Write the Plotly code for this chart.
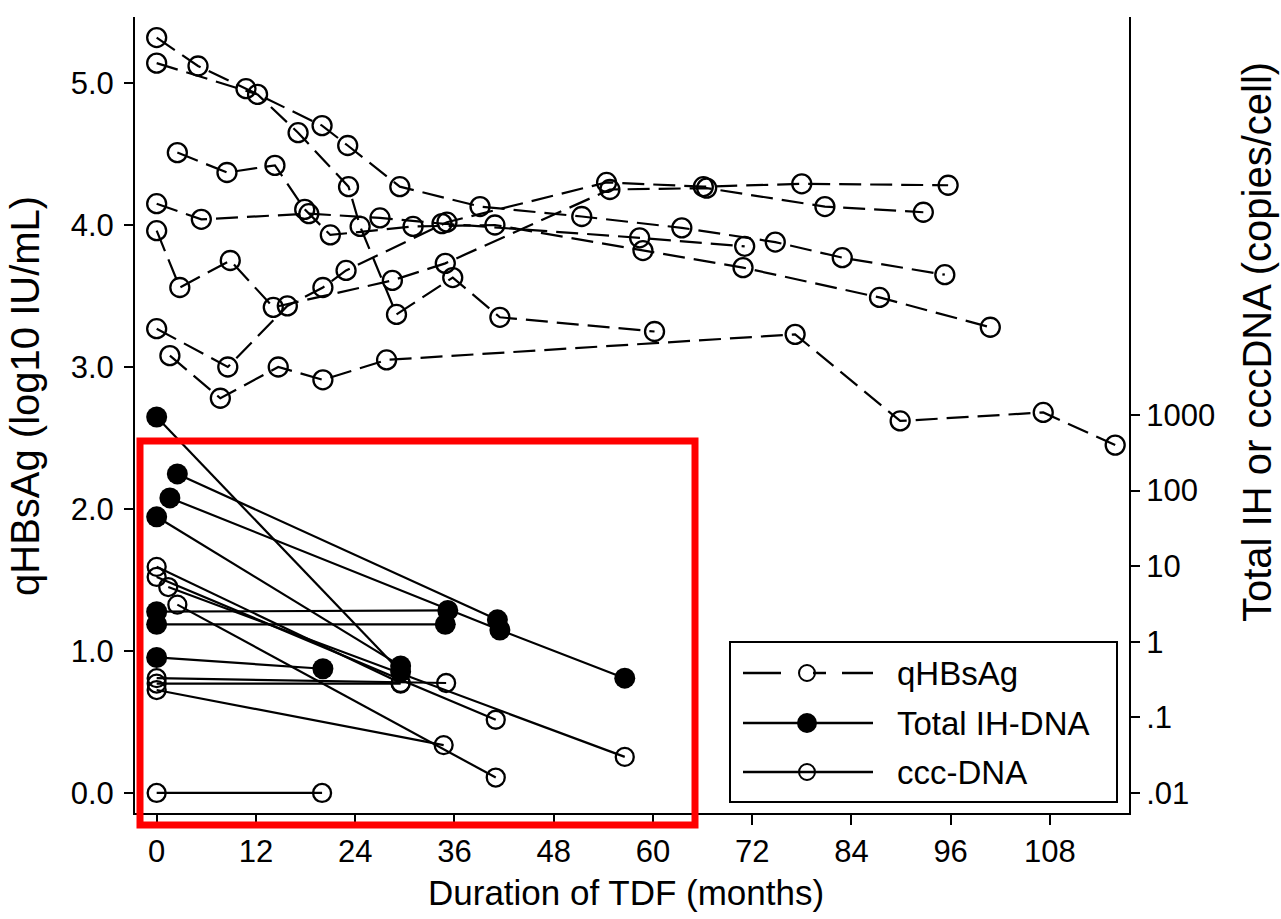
import plotly.graph_objects as go

# ---------------- data ----------------
# qHBsAg, log10 IU/mL, one list per patient
hbsag_months = [
    [0, 5.0, 10.8, 20.0, 23.1, 29.4, 39.1, 51.4, 63.5, 74.8, 82.9, 95.3],
    [0, 12.2, 17.1, 23.2, 24.6, 29.0, 35.8, 41.5, 60.2],
    [2.5, 8.5, 14.3, 17.9, 21.0, 31.0, 40.9, 58.8, 70.9, 87.4, 100.8],
    [0, 5.4, 18.4, 27.0, 34.5, 58.4, 71.1],
    [0, 2.8, 8.9, 14.1, 28.5, 34.9, 54.8, 66.5, 80.8, 92.7],
    [0, 8.6, 15.8, 20.1, 22.9, 35.1, 54.4, 66.1, 78.0, 95.7],
    [1.6, 7.7, 14.7, 20.1, 27.8, 77.2, 89.9, 107.2, 115.9],
]
hbsag_values = [
    [5.32, 5.12, 4.96, 4.70, 4.56, 4.27, 4.13, 4.06, 3.98, 3.88, 3.77, 3.65],
    [5.14, 4.92, 4.65, 4.27, 3.99, 3.37, 3.63, 3.35, 3.25],
    [4.51, 4.37, 4.42, 4.11, 3.93, 3.99, 4.00, 3.82, 3.70, 3.49, 3.28],
    [4.15, 4.04, 4.08, 4.05, 4.01, 3.91, 3.85],
    [3.96, 3.56, 3.75, 3.42, 3.61, 3.73, 4.25, 4.26, 4.13, 4.09],
    [3.27, 3.00, 3.43, 3.56, 3.68, 4.02, 4.30, 4.27, 4.29, 4.28],
    [3.08, 2.78, 3.00, 2.91, 3.05, 3.23, 2.62, 2.68, 2.45],
]

# Total IH-DNA, copies/cell
ih_months = [
    [0, 29.5],
    [2.5, 41.2],
    [1.6, 41.5, 56.6],
    [0, 29.5],
    [0, 35.2],
    [0, 34.9],
    [0, 20.1],
]
ih_values = [
    [940, 0.40],
    [166, 1.95],
    [80, 1.43, 0.33],
    [45, 0.48],
    [2.5, 2.6],
    [1.7, 1.7],
    [0.62, 0.44],
]

# ccc-DNA, copies/cell
ccc_months = [
    [0, 29.5],
    [0, 41.0],
    [1.4, 56.6],
    [2.5, 41.0],
    [0, 35.0],
    [0, 34.7],
    [0, 29.5],
    [0, 20.0],
]
ccc_values = [
    [9.8, 0.285],
    [7.2, 0.093],
    [5.3, 0.030],
    [3.1, 0.016],
    [0.33, 0.285],
    [0.23, 0.043],
    [0.28, 0.28],
    [0.01, 0.01],
]

x_ticks = [0, 12, 24, 36, 48, 60, 72, 84, 96, 108]
left_ticks = [0, 1, 2, 3, 4, 5]
left_ticktext = ["0.0", "1.0", "2.0", "3.0", "4.0", "5.0"]
right_ticks = [0.01, 0.1, 1, 10, 100, 1000]
right_ticktext = [".01", ".1", "1", "10", "100", "1000"]

legend_labels = ["qHBsAg", "Total IH-DNA", "ccc-DNA"]

# ---------------- layout geometry (pixels) ----------------
WIDTH, HEIGHT = 1281, 919
L, R, T, B = 135, 1129, 17, 813
PW, PH = R - L, B - T


def px(xp):
    return (xp - L) / PW


def py(yp):
    return (B - yp) / PH


FONT = "Liberation Sans, Arial, sans-serif"
BLACK = "#000000"

fig = go.Figure()

for m, v in zip(hbsag_months, hbsag_values):
    fig.add_trace(go.Scatter(
        x=m, y=v, mode="lines+markers", yaxis="y", showlegend=False,
        line=dict(color=BLACK, width=2.2, dash="22px,9px"),
        marker=dict(symbol="circle-open", size=19, color=BLACK,
                    line=dict(width=2.3, color=BLACK)),
        hoverinfo="skip"))

for m, v in zip(ccc_months, ccc_values):
    fig.add_trace(go.Scatter(
        x=m, y=v, mode="lines+markers", yaxis="y2", showlegend=False,
        line=dict(color=BLACK, width=2.2),
        marker=dict(symbol="circle-open", size=18, color=BLACK,
                    line=dict(width=2.3, color=BLACK)),
        hoverinfo="skip"))

for m, v in zip(ih_months, ih_values):
    fig.add_trace(go.Scatter(
        x=m, y=v, mode="lines+markers", yaxis="y2", showlegend=False,
        line=dict(color=BLACK, width=2.2),
        marker=dict(symbol="circle", size=21, color=BLACK,
                    line=dict(width=0)),
        hoverinfo="skip"))

shapes = []
annotations = []

# custom legend box
lx0, lx1, ly0, ly1 = 730, 1117, 642, 802
shapes.append(dict(type="rect", xref="paper", yref="paper", layer="above",
                   x0=px(lx0), x1=px(lx1), y0=py(ly1), y1=py(ly0),
                   line=dict(color=BLACK, width=2), fillcolor="white"))
rows = [673, 723, 772]
seg_x0, seg_x1, mark_x, text_x = 743, 873, 807, 895


def hline(x0, x1, y, w=2.5):
    return dict(type="line", xref="paper", yref="paper", layer="above",
                x0=px(x0), x1=px(x1), y0=py(y), y1=py(y),
                line=dict(color=BLACK, width=w))


def circ(cx, cy, r, filled):
    return dict(type="circle", xref="paper", yref="paper", layer="above",
                x0=px(cx - r), x1=px(cx + r), y0=py(cy + r), y1=py(cy - r),
                line=dict(color=BLACK, width=2),
                fillcolor=BLACK if filled else "rgba(0,0,0,0)")


# qHBsAg sample: dashed
shapes += [hline(seg_x0, 781, rows[0]), hline(813, 826, rows[0]),
           hline(842, seg_x1, rows[0]), circ(mark_x, rows[0], 8, False)]
# Total IH-DNA sample
shapes += [hline(seg_x0, seg_x1, rows[1]), circ(mark_x, rows[1], 9, True)]
# ccc-DNA sample
shapes += [hline(seg_x0, seg_x1, rows[2]), circ(mark_x, rows[2], 8, False)]

for lab, yy in zip(legend_labels, rows):
    annotations.append(dict(text=lab, xref="paper", yref="paper",
                            x=px(text_x), y=py(yy), xanchor="left",
                            yanchor="middle", showarrow=False,
                            font=dict(family=FONT, size=33, color=BLACK)))

# highlight rectangle (red)
shapes.append(dict(type="rect", xref="paper", yref="paper", layer="above",
                   x0=px(140), x1=px(695), y0=py(825), y1=py(441),
                   line=dict(color="#ff0000", width=7),
                   fillcolor="rgba(0,0,0,0)"))

# axis titles
annotations.append(dict(text="qHBsAg (log10 IU/mL)", xref="paper", yref="paper",
                        x=px(25), y=py(396), textangle=-90, showarrow=False,
                        xanchor="center", yanchor="middle",
                        font=dict(family=FONT, size=40, color=BLACK)))
annotations.append(dict(text="Total IH or cccDNA (copies/cell)", xref="paper",
                        yref="paper", x=px(1257), y=py(342), textangle=-90,
                        showarrow=False, xanchor="center", yanchor="middle",
                        font=dict(family=FONT, size=40, color=BLACK)))
annotations.append(dict(text="Duration of TDF (months)", xref="paper",
                        yref="paper", x=px(626), y=py(892), showarrow=False,
                        xanchor="center", yanchor="middle",
                        font=dict(family=FONT, size=35, color=BLACK)))

tickfont = dict(family=FONT, size=31, color=BLACK)

fig.update_layout(
    width=WIDTH, height=HEIGHT,
    margin=dict(l=L, r=WIDTH - R, t=T, b=HEIGHT - B, pad=0),
    paper_bgcolor="white", plot_bgcolor="white",
    showlegend=False,
    shapes=shapes, annotations=annotations,
    xaxis=dict(range=[-2.62, 117.57], tickvals=x_ticks,
               ticks="outside", ticklen=10, tickwidth=2, tickcolor=BLACK,
               showline=True, linecolor=BLACK, linewidth=2,
               showgrid=False, zeroline=False, tickfont=tickfont,
               ticklabelstandoff=0),
    yaxis=dict(range=[-0.141, 5.465], tickvals=left_ticks,
               ticktext=left_ticktext,
               ticks="outside", ticklen=9, tickwidth=2, tickcolor=BLACK,
               showline=True, linecolor=BLACK, linewidth=2,
               showgrid=False, zeroline=False, tickfont=tickfont,
               ticklabelstandoff=4),
    yaxis2=dict(type="log", range=[-2.265, 8.265], overlaying="y",
                side="right", tickvals=right_ticks, ticktext=right_ticktext,
                ticks="outside", ticklen=9, tickwidth=2, tickcolor=BLACK,
                showline=True, linecolor=BLACK, linewidth=2,
                showgrid=False, zeroline=False, tickfont=tickfont),
)

fig.write_html("out.html")
